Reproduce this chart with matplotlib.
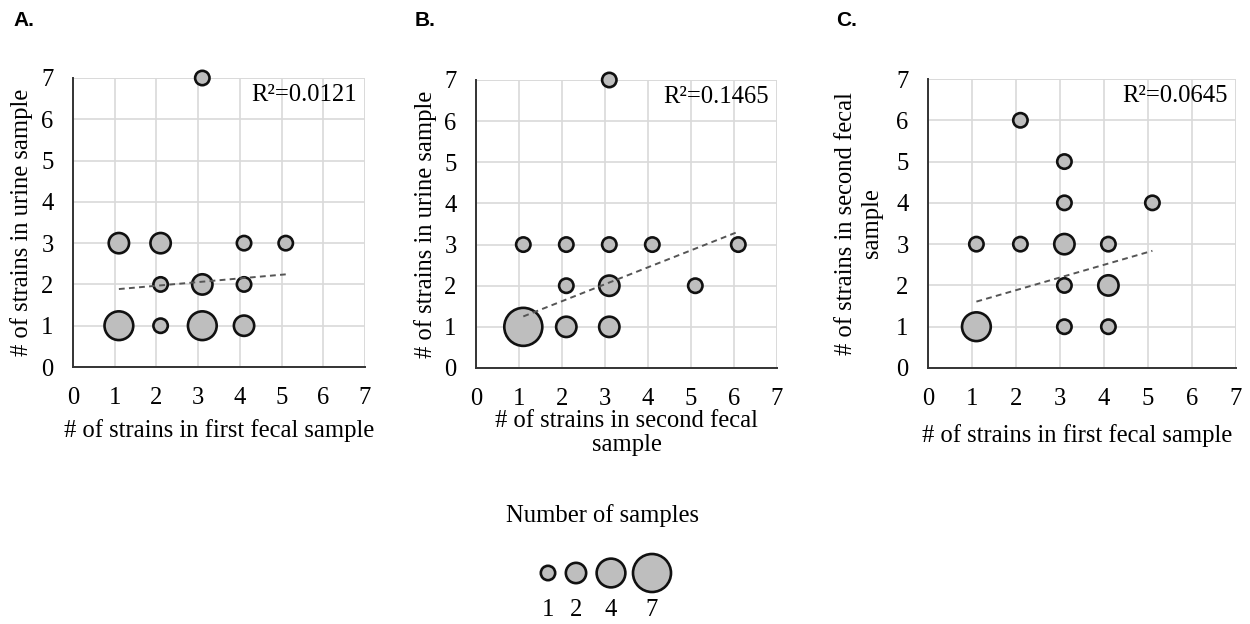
import matplotlib
matplotlib.use("Agg")
import matplotlib.pyplot as plt
import numpy as np

# ---------------- data ----------------
# Panel A: first fecal (x) vs urine (y)
a_x = [3, 1, 2, 4, 5, 2, 3, 4, 1, 2, 3, 4]
a_y = [7, 3, 3, 3, 3, 2, 2, 2, 1, 1, 1, 1]
a_n = [1, 2, 2, 1, 1, 1, 2, 1, 4, 1, 4, 2]
a_r2 = "0.0121"
a_trend = (0.089, 1.79)   # slope, intercept

# Panel B: second fecal (x) vs urine (y)
b_x = [3, 1, 2, 3, 4, 6, 2, 3, 5, 1, 2, 3]
b_y = [7, 3, 3, 3, 3, 3, 2, 2, 2, 1, 1, 1]
b_n = [1, 1, 1, 1, 1, 1, 1, 2, 1, 7, 2, 2]
b_r2 = "0.1465"
b_trend = (0.412, 0.80)

# Panel C: first fecal (x) vs second fecal (y)
c_x = [2, 3, 3, 5, 1, 2, 3, 4, 3, 4, 1, 3, 4]
c_y = [6, 5, 4, 4, 3, 3, 3, 3, 2, 2, 1, 1, 1]
c_n = [1, 1, 1, 1, 1, 1, 2, 1, 1, 2, 4, 1, 1]
c_r2 = "0.0645"
c_trend = (0.3075, 1.27)

ticks = [0, 1, 2, 3, 4, 5, 6, 7]
legend_n = [1, 2, 4, 7]

panel_letters = ["A.", "B.", "C."]
xlabels = ["# of strains in first fecal sample",
           "# of strains in second fecal\nsample",
           "# of strains in first fecal sample"]
ylabels = ["# of strains in urine sample",
           "# of strains in urine sample",
           "# of strains in second fecal\nsample"]

# ---------------- style ----------------
SERIF = "Liberation Serif"
SANS = "Liberation Sans"
FACE = "#BEBEBE"
EDGE = "#111111"
GRID = "#D9D9D9"
SIZE_PER_N = 107.0  # points^2 per sample
X_SHIFT = 0.1       # bubbles drawn slightly right of the integer grid
FS = 17.7

fig = plt.figure(figsize=(12.5, 6.24), dpi=100)

W, H = 1250.0, 624.0
def px_axes(l, t, r, b):
    return [l / W, 1 - b / H, (r - l) / W, (b - t) / H]

axes_px = [(73, 78, 365, 367), (476, 80, 777, 368), (928, 79, 1236, 368)]
letter_px = [(13, 20), (415, 20), (836, 20)]
xlabel_pos = [(0.5, -0.221), (0.5, -0.226), (0.485, -0.232)]
ylabel_pos = [(-0.175, 0.5), (-0.169, 0.5), (-0.224, 0.5)]
xlabel_ls = [1.0, 1.1, 1.0]
ylabel_ls = [1.0, 1.0, 1.2]

datasets = [(a_x, a_y, a_n, a_r2, a_trend),
            (b_x, b_y, b_n, b_r2, b_trend),
            (c_x, c_y, c_n, c_r2, c_trend)]

for i, (xs, ys, ns, r2, trend) in enumerate(datasets):
    ax = fig.add_axes(px_axes(*axes_px[i]))
    ax.set_xlim(0, 7)
    ax.set_ylim(0, 7)
    ax.set_xticks(ticks)
    ax.set_yticks(ticks)
    ax.grid(True, color=GRID, linewidth=1.2, zorder=0)
    ax.set_axisbelow(True)
    for s in ["top", "right"]:
        ax.spines[s].set_visible(False)
    for s in ["left", "bottom"]:
        ax.spines[s].set_color("#333333")
        ax.spines[s].set_linewidth(1.4)
    ax.axhline(7, color=GRID, linewidth=1.2, zorder=0)
    ax.axvline(7, color=GRID, linewidth=1.2, zorder=0)
    ax.tick_params(axis="x", length=0, labelsize=FS, pad=14.5)
    ax.tick_params(axis="y", length=0, labelsize=FS, pad=14)
    for lab in ax.get_xticklabels() + ax.get_yticklabels():
        lab.set_fontfamily(SERIF)

    xp = np.array(xs, dtype=float) + X_SHIFT
    ax.scatter(xp, ys, s=np.array(ns) * SIZE_PER_N, facecolor=FACE,
               edgecolor=EDGE, linewidth=1.9, zorder=3, clip_on=False)

    slope, intercept = trend
    tx = np.array([xp.min(), xp.max()])
    ax.plot(tx, slope * tx + intercept, linestyle=(0, (3, 2.2)),
            color="#555555", linewidth=1.4, zorder=4)

    ax.text(0.973, 0.941, "R\u00b2=" + r2, transform=ax.transAxes,
            ha="right", va="center", fontsize=FS, family=SERIF, zorder=5)

    ax.set_xlabel(xlabels[i], fontsize=FS, family=SERIF,
                  linespacing=xlabel_ls[i])
    ax.xaxis.set_label_coords(*xlabel_pos[i])
    ax.xaxis.label.set_verticalalignment("center")
    ax.set_ylabel(ylabels[i], fontsize=FS, family=SERIF,
                  linespacing=ylabel_ls[i])
    ax.yaxis.set_label_coords(*ylabel_pos[i])
    ax.yaxis.label.set_verticalalignment("center")

    lx, ly = letter_px[i]
    fig.text(lx / W, 1 - ly / H, panel_letters[i], fontsize=15,
             fontweight="bold", family=SANS, ha="left", va="center")

# ---------------- size legend ----------------
lax = fig.add_axes([0, 0, 1, 1], facecolor="none")
lax.set_xlim(0, W)
lax.set_ylim(H, 0)
lax.axis("off")
lax.text(602, 516, "Number of samples", fontsize=FS, family=SERIF,
         ha="center", va="center")
leg_x = [548, 576, 611, 652]
lax.scatter(leg_x, [573] * len(legend_n),
            s=np.array(legend_n) * SIZE_PER_N, facecolor=FACE,
            edgecolor=EDGE, linewidth=1.9, zorder=3)
for xx, n in zip(leg_x, legend_n):
    lax.text(xx, 610, str(n), fontsize=FS, family=SERIF,
             ha="center", va="center")

fig.savefig("out.png", dpi=100)
